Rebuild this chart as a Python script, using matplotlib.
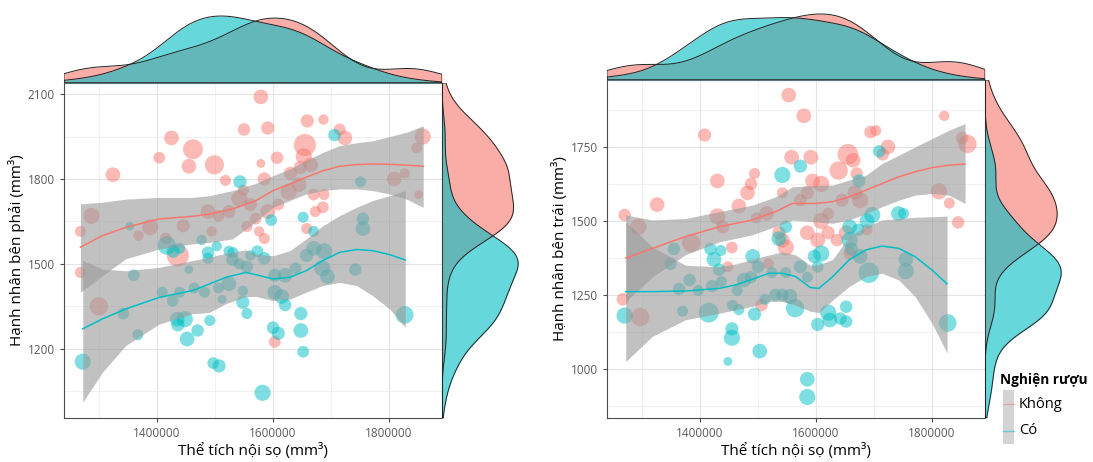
import numpy as np
import matplotlib.pyplot as plt
from matplotlib.patches import Rectangle
from matplotlib.lines import Line2D

plt.rcParams['font.family'] = ['Open Sans', 'DejaVu Sans']

PINK = '#F8766D'
TEAL = '#00BFC4'

# ---- left panel: right amygdala vs intracranial volume ----
# group "Không"
kL_x = [1579000, 1550000, 1591000, 1659000, 1687000, 1715000, 1724000, 1425000, 1404000, 1462000,
        1455000, 1499000, 1324000, 1579000, 1607000, 1655000, 1653000, 1647000, 1518000, 1549000,
        1585000, 1630000, 1665000, 1809000, 1827000, 1858000, 1848000, 1851000, 1287000, 1268000,
        1268000, 1300000, 1368000, 1388000, 1445000, 1415000, 1436000, 1488000, 1506000, 1524000,
        1542000, 1561000, 1570000, 1576000, 1591000, 1609000, 1627000, 1645000, 1670000, 1673000,
        1688000, 1658000, 1603000, 1494000, 1585000, 1686000, 1555000]
kL_y = [2090, 1975, 1980, 2005, 2010, 1975, 1945, 1945, 1875, 1905,
        1845, 1850, 1815, 1855, 1875, 1920, 1880, 1840, 1795, 1760,
        1800, 1820, 1850, 1800, 1820, 1950, 1910, 1745, 1670, 1615,
        1470, 1350, 1600, 1630, 1635, 1590, 1530, 1685, 1670, 1685,
        1730, 1710, 1660, 1615, 1685, 1710, 1755, 1780, 1745, 1685,
        1745, 1625, 1225, 1615, 1590, 1700, 1632]
kL_w = [20, 17, 18, 18, 14, 16, 20, 20, 16, 27,
        20, 26, 20, 12, 17, 30, 22, 18, 15, 15,
        18, 18, 20, 20, 14, 22, 15, 12, 22, 15,
        15, 25, 14, 22, 18, 16, 30, 20, 16, 18,
        22, 18, 16, 14, 20, 16, 22, 20, 16, 15,
        15, 15, 16, 14, 15, 16, 15]
# group "Có"
cL_x = [1272000, 1367000, 1342000, 1360000, 1435000, 1448000, 1436000, 1452000, 1470000, 1491000,
        1497000, 1507000, 1582000, 1600000, 1609000, 1648000, 1648000, 1652000, 1621000, 1615000,
        1603000, 1548000, 1548000, 1524000, 1506000, 1482000, 1455000, 1439000, 1417000, 1428000,
        1477000, 1488000, 1503000, 1524000, 1530000, 1542000, 1555000, 1561000, 1573000, 1585000,
        1603000, 1621000, 1639000, 1658000, 1670000, 1688000, 1685000, 1694000, 1597000, 1652000,
        1670000, 1543000, 1706000, 1751000, 1755000, 1755000, 1742000, 1827000, 1439000, 1409000,
        1427000, 1464000, 1512000, 1555000, 1488000, 1531000, 1353000]
cL_y = [1155, 1250, 1325, 1460, 1305, 1305, 1285, 1235, 1265, 1300,
        1150, 1140, 1045, 1275, 1255, 1325, 1265, 1190, 1355, 1385,
        1400, 1365, 1405, 1430, 1415, 1400, 1480, 1555, 1565, 1545,
        1585, 1540, 1563, 1545, 1515, 1500, 1490, 1530, 1545, 1520,
        1460, 1460, 1485, 1530, 1555, 1545, 1485, 1455, 1655, 1665,
        1615, 1790, 1955, 1790, 1660, 1625, 1480, 1320, 1400, 1400,
        1370, 1415, 1375, 1325, 1520, 1540, 1633]
cL_w = [22, 15, 16, 16, 20, 22, 18, 20, 17, 15,
        16, 18, 22, 17, 18, 18, 20, 16, 17, 20,
        20, 18, 14, 20, 15, 15, 12, 15, 25, 18,
        14, 17, 14, 15, 17, 15, 17, 14, 16, 17,
        18, 20, 16, 18, 20, 22, 22, 20, 16, 15,
        15, 18, 17, 15, 17, 20, 17, 24, 15, 15,
        16, 15, 12, 15, 15, 15, 12]

# loess fits
kL_sx = [1268000, 1306000, 1346000, 1404000, 1461000, 1490000, 1530000, 1571000, 1600000,
         1629000, 1657000, 1686000, 1715000, 1744000, 1772000, 1801000, 1830000, 1859000]
kL_fit = [1559, 1600, 1629, 1659, 1668, 1676, 1694, 1724, 1759, 1782, 1806, 1829, 1845, 1851, 1853, 1852, 1849, 1845]
kL_lo = [1400, 1459, 1518, 1553, 1571, 1576, 1588, 1650, 1700, 1724, 1747, 1759, 1765, 1765, 1759, 1747, 1729, 1700]
kL_hi = [1712, 1718, 1729, 1735, 1735, 1741, 1759, 1785, 1812, 1835, 1865, 1894, 1918, 1928, 1935, 1950, 1965, 1988]

cL_sx = [1272000, 1306000, 1346000, 1404000, 1461000, 1490000, 1519000, 1553000, 1571000,
         1600000, 1629000, 1657000, 1686000, 1715000, 1744000, 1772000, 1801000, 1828000]
cL_fit = [1271, 1306, 1341, 1382, 1406, 1429, 1453, 1470, 1462, 1447, 1453, 1476, 1512, 1541, 1551, 1547, 1533, 1514]
cL_lo = [1012, 1118, 1212, 1288, 1324, 1329, 1360, 1385, 1385, 1371, 1376, 1400, 1424, 1435, 1424, 1388, 1341, 1276]
cL_hi = [1512, 1482, 1476, 1488, 1512, 1524, 1538, 1550, 1535, 1529, 1547, 1588, 1635, 1671, 1700, 1724, 1741, 1759]

# ---- right panel: left amygdala vs intracranial volume ----
kR_x = [1553000, 1579000, 1821000, 1408000, 1694000, 1703000, 1724000, 1715000, 1861000, 1852000,
        1430000, 1326000, 1270000, 1294000, 1267000, 1297000, 1494000, 1488000, 1482000, 1467000,
        1558000, 1542000, 1591000, 1594000, 1609000, 1585000, 1573000, 1515000, 1497000, 1430000,
        1385000, 1439000, 1455000, 1518000, 1542000, 1548000, 1536000, 1609000, 1585000, 1603000,
        1621000, 1621000, 1639000, 1655000, 1664000, 1670000, 1645000, 1667000, 1676000, 1652000,
        1636000, 1658000, 1688000, 1812000, 1830000, 1845000, 1506000, 1448000]
kR_y = [1925, 1855, 1855, 1790, 1800, 1805, 1750, 1725, 1760, 1780,
        1635, 1555, 1520, 1480, 1235, 1175, 1660, 1625, 1595, 1550,
        1715, 1595, 1715, 1635, 1625, 1595, 1570, 1525, 1510, 1515,
        1425, 1480, 1410, 1355, 1435, 1410, 1460, 1500, 1460, 1435,
        1460, 1525, 1670, 1725, 1705, 1660, 1570, 1595, 1570, 1460,
        1435, 1390, 1470, 1600, 1560, 1495, 1215, 1345]
kR_w = [20, 20, 14, 18, 17, 15, 20, 17, 25, 17,
        20, 20, 17, 22, 17, 25, 15, 17, 20, 20,
        20, 15, 20, 20, 22, 18, 17, 20, 15, 22,
        25, 18, 16, 15, 20, 22, 18, 22, 20, 20,
        18, 16, 25, 28, 20, 17, 18, 20, 22, 20,
        17, 17, 15, 22, 15, 17, 17, 15]

cR_x = [1270000, 1370000, 1364000, 1349000, 1355000, 1415000, 1455000, 1455000, 1448000, 1456000,
        1467000, 1494000, 1503000, 1530000, 1542000, 1555000, 1564000, 1585000, 1585000, 1603000,
        1621000, 1624000, 1642000, 1652000, 1652000, 1827000, 1742000, 1751000, 1697000, 1688000,
        1709000, 1542000, 1573000, 1755000, 1755000, 1691000, 1676000, 1658000, 1658000, 1673000,
        1661000, 1609000, 1597000, 1603000, 1491000, 1500000, 1488000, 1476000, 1464000, 1437000,
        1433000, 1421000, 1424000, 1418000, 1436000, 1536000, 1548000, 1524000, 1548000, 1573000,
        1585000, 1397000, 1382000, 1512000, 1674000]
cR_y = [1180, 1195, 1270, 1355, 1405, 1190, 1135, 1105, 1025, 1215,
        1200, 1185, 1060, 1250, 1250, 1245, 1205, 965, 905, 1150,
        1190, 1165, 1170, 1210, 1160, 1155, 1525, 1525, 1520, 1500,
        1735, 1655, 1685, 1370, 1330, 1325, 1380, 1435, 1480, 1470,
        1405, 1390, 1380, 1345, 1380, 1345, 1310, 1300, 1265, 1295,
        1335, 1280, 1370, 1405, 1400, 1440, 1480, 1325, 1325, 1345,
        1310, 1265, 1300, 1235, 1635]
cR_w = [22, 15, 17, 17, 17, 27, 18, 22, 12, 15,
        15, 18, 20, 17, 17, 20, 25, 20, 22, 18,
        22, 20, 17, 17, 17, 24, 20, 15, 22, 20,
        17, 22, 18, 20, 22, 28, 20, 22, 20, 17,
        18, 22, 18, 16, 20, 17, 17, 20, 15, 15,
        17, 17, 20, 17, 15, 20, 17, 15, 15, 18,
        15, 15, 17, 15, 18]

kR_sx = [1272000, 1318000, 1375000, 1433000, 1490000, 1530000, 1559000, 1600000, 1629000,
         1657000, 1686000, 1714000, 1743000, 1771000, 1800000, 1829000, 1857000]
kR_fit = [1374, 1407, 1447, 1480, 1503, 1531, 1559, 1559, 1565, 1581, 1604, 1626, 1649, 1666, 1680, 1688, 1692]
kR_lo = [1228, 1311, 1386, 1429, 1453, 1481, 1503, 1497, 1492, 1503, 1525, 1548, 1570, 1587, 1593, 1587, 1559]
kR_hi = [1520, 1503, 1508, 1531, 1553, 1581, 1615, 1620, 1621, 1638, 1654, 1694, 1722, 1750, 1778, 1806, 1829]

cR_sx = [1272000, 1318000, 1375000, 1433000, 1462000, 1490000, 1519000, 1542000, 1565000, 1590000,
         1605000, 1629000, 1657000, 1686000, 1714000, 1743000, 1771000, 1800000, 1826000]
cR_fit = [1261, 1261, 1263, 1272, 1284, 1303, 1323, 1323, 1312, 1275, 1272, 1312, 1368, 1402, 1415, 1407, 1379, 1334, 1287]
cR_lo = [1025, 1110, 1166, 1188, 1200, 1211, 1228, 1228, 1215, 1195, 1190, 1233, 1278, 1312, 1323, 1300, 1244, 1154, 1053]
cR_hi = [1497, 1412, 1350, 1345, 1355, 1370, 1385, 1395, 1385, 1350, 1352, 1370, 1447, 1480, 1503, 1508, 1512, 1514, 1516]

legend_title = 'Nghiện rượu'
groups = ['Không', 'Có']
xlabel = 'Thể tích nội sọ (mm³)'


def kde(v, grid):
    # gaussian kernel density, R's bw.nrd0 bandwidth
    v = np.asarray(v, float)
    n = len(v)
    sd = v.std(ddof=1)
    q75, q25 = np.percentile(v, [75, 25])
    bw = 0.9 * min(sd, (q75 - q25) / 1.34) * n ** -0.2
    z = (grid[:, None] - v[None, :]) / bw
    return np.exp(-0.5 * z ** 2).sum(axis=1) / (n * bw * np.sqrt(2 * np.pi))


def msize(w):
    return (np.asarray(w) * 0.53) ** 2


def px(x0, y0, x1, y1):
    # pixel box -> figure fraction rect
    W, H = 1093, 462
    return [x0 / W, 1 - y1 / H, (x1 - x0) / W, (y1 - y0) / H]


def draw_panel(box, top_box, side_box, pts, smooths, ylim, yticks, yminor, ylabel):
    ax = fig.add_axes(px(*box))
    for x, y, w, c in pts:
        ax.scatter(x, y, s=msize(w), color=c, alpha=0.5, lw=0, zorder=2)
    for sx, fit, lo, hi, c in smooths:
        ax.fill_between(sx, lo, hi, color='#999999', alpha=0.6, lw=0, zorder=3)
        ax.plot(sx, fit, color=c, lw=1.1, zorder=4)
    ax.set_xlim(1239655, 1891379)
    ax.set_ylim(*ylim)
    ax.set_xticks([1400000, 1600000, 1800000])
    ax.set_xticklabels(['1400000', '1600000', '1800000'])
    ax.set_xticks([1300000, 1500000, 1700000], minor=True)
    ax.set_yticks(yticks)
    ax.set_yticks(yminor, minor=True)
    ax.grid(which='major', color='#e3e3e3', lw=0.8, zorder=0)
    ax.grid(which='minor', color='#efefef', lw=0.6, zorder=0)
    ax.set_axisbelow(True)
    for s in ax.spines.values():
        s.set_color('#4d4d4d')
        s.set_linewidth(0.8)
    ax.tick_params(which='major', length=3, color='#4d4d4d', labelcolor='#5a5a5a', labelsize=8.5)
    ax.tick_params(which='minor', length=0)
    ax.set_xlabel(xlabel, fontsize=11, labelpad=2)
    ax.set_ylabel(ylabel, fontsize=11, labelpad=2)

    # top marginal: density of x by group, over the whole axis range
    axt = fig.add_axes(px(*top_box))
    gx = np.linspace(*ax.get_xlim(), 512)
    dmax = 0
    for x, y, w, c in pts:
        d = kde(x, gx)
        dmax = max(dmax, d.max())
        axt.fill_between(gx, 0, d, color=c, alpha=0.6, lw=0)
        axt.plot(np.r_[gx, gx[::-1], gx[0]], np.r_[d, np.zeros_like(d), d[0]], color='#222222', lw=0.7)
    axt.set_xlim(ax.get_xlim())
    axt.set_ylim(0, dmax * 1.03)
    axt.axis('off')

    # side marginal: density of y by group
    axs = fig.add_axes(px(*side_box))
    gy = np.linspace(*ax.get_ylim(), 512)
    dmax = 0
    for x, y, w, c in pts:
        d = kde(y, gy)
        dmax = max(dmax, d.max())
        axs.fill_betweenx(gy, 0, d, color=c, alpha=0.6, lw=0)
        axs.plot(np.r_[d, np.zeros_like(d), d[0]], np.r_[gy, gy[::-1], gy[0]], color='#222222', lw=0.7)
    axs.set_ylim(ax.get_ylim())
    axs.set_xlim(0, dmax * 1.05)
    axs.axis('off')


fig = plt.figure(figsize=(10.93, 4.62), dpi=100)

draw_panel((64, 83, 442, 418), (64, 14, 442, 83), (442, 83, 522, 418),
           [(np.array(kL_x), np.array(kL_y), kL_w, PINK), (np.array(cL_x), np.array(cL_y), cL_w, TEAL)],
           [(kL_sx, kL_fit, kL_lo, kL_hi, PINK), (cL_sx, cL_fit, cL_lo, cL_hi, TEAL)],
           (956, 2139), [1200, 1500, 1800, 2100], [1050, 1350, 1650, 1950],
           'Hạnh nhân bên phải (mm³)')

draw_panel((607, 80, 985, 418), (607, 12, 985, 80), (985, 80, 1065, 418),
           [(np.array(kR_x), np.array(kR_y), kR_w, PINK), (np.array(cR_x), np.array(cR_y), cR_w, TEAL)],
           [(kR_sx, kR_fit, kR_lo, kR_hi, PINK), (cR_sx, cR_fit, cR_lo, cR_hi, TEAL)],
           (834, 1976), [1000, 1250, 1500, 1750], [875, 1125, 1375, 1625, 1875],
           'Hạnh nhân bên trái (mm³)')

# legend
W, H = 1093, 462
fig.text(1000 / W, 1 - 380 / H, legend_title, fontsize=9.8, fontweight='bold', ha='left', va='center')
for i, (g, c) in enumerate(zip(groups, [PINK, TEAL])):
    yc = 404 + 27 * i
    fig.add_artist(Rectangle((1003 / W, 1 - (yc + 13) / H), 11 / W, 27 / H,
                             transform=fig.transFigure, fc='#d4d4d4', ec='none'))
    fig.add_artist(Line2D([1003 / W, 1014 / W], [1 - yc / H, 1 - yc / H],
                          transform=fig.transFigure, color=c, lw=1, alpha=0.5))
    fig.text(1019 / W, 1 - yc / H, g, fontsize=10.5, ha='left', va='center')

fig.savefig('out.png', dpi=100)
